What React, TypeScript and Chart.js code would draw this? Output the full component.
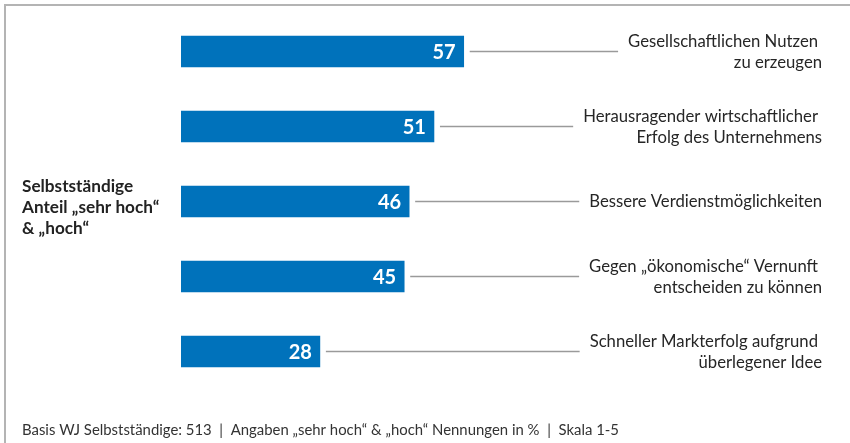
import React, { useEffect, useRef } from "react";
import { Chart, registerables } from "chart.js";

Chart.register(...registerables);

const categories: string[][] = [
  ["Gesellschaftlichen Nutzen", "zu erzeugen"],
  ["Herausragender wirtschaftlicher", "Erfolg des Unternehmens"],
  ["Bessere Verdienstmöglichkeiten"],
  ["Gegen \u201Eökonomische\u201C Vernunft", "entscheiden zu können"],
  ["Schneller Markterfolg aufgrund", "überlegener Idee"],
];
const values: number[] = [57, 51, 46, 45, 28];
const sideTitle: string[] = [
  "Selbstständige",
  "Anteil \u201Esehr hoch\u201C",
  "& \u201Ehoch\u201C",
];
const footnote =
  "Basis WJ Selbstständige: 513  |  Angaben \u201Esehr hoch\u201C & \u201Ehoch\u201C Nennungen in %  |  Skala 1-5";

const FONT = "Lato, 'Open Sans', sans-serif";

const overlay = {
  id: "overlay",
  afterDraw(chart: any) {
    const ctx: CanvasRenderingContext2D = chart.ctx;
    const meta = chart.getDatasetMeta(0);
    ctx.save();
    // frame
    ctx.strokeStyle = "#b4b4b4";
    ctx.lineWidth = 2;
    ctx.beginPath();
    ctx.moveTo(5, 443);
    ctx.lineTo(5, 5);
    ctx.lineTo(850, 5);
    ctx.stroke();

    const labelRight = 822;
    meta.data.forEach((bar: any, i: number) => {
      const x = bar.x;
      const y = bar.y;
      // value
      ctx.fillStyle = "#ffffff";
      ctx.font = `bold 20px ${FONT}`;
      ctx.textAlign = "right";
      ctx.textBaseline = "middle";
      ctx.fillText(String(values[i]), x - 8, y + 1);

      // category label
      const lines = categories[i];
      ctx.font = `16.7px ${FONT}`;
      ctx.fillStyle = "#262626";
      let firstLeft = labelRight;
      lines.forEach((ln, k) => {
        const ly = lines.length === 1 ? y : y - 10 + k * 21;
        const rx = lines.length > 1 && k === 0 ? labelRight - 4 : labelRight;
        ctx.fillText(ln, rx, ly);
        if (k === 0) firstLeft = rx - ctx.measureText(ln).width;
      });
      // connector
      ctx.strokeStyle = "#9a9a9a";
      ctx.lineWidth = 1.3;
      ctx.beginPath();
      ctx.moveTo(x + 6, y);
      ctx.lineTo(firstLeft - 10, y);
      ctx.stroke();
    });

    // side title
    ctx.fillStyle = "#222222";
    ctx.font = `bold 17.2px ${FONT}`;
    ctx.textAlign = "left";
    ctx.textBaseline = "alphabetic";
    sideTitle.forEach((t, k) => ctx.fillText(t, 22, 192 + k * 21));

    // footnote
    ctx.fillStyle = "#333333";
    ctx.font = `14.9px ${FONT}`;
    ctx.textBaseline = "middle";
    ctx.fillText(footnote, 22, 430);
    ctx.restore();
  },
};

export default function App() {
  const ref = useRef<HTMLCanvasElement | null>(null);
  useEffect(() => {
    document.body.style.margin = "0";
    const chart = new Chart(ref.current as HTMLCanvasElement, {
      type: "bar",
      data: {
        labels: categories.map((c) => c.join(" ")),
        datasets: [
          {
            data: values,
            backgroundColor: "#0072bb",
            borderWidth: 0,
            barThickness: 31,
          },
        ],
      },
      options: {
        indexAxis: "y",
        responsive: false,
        animation: false,
        layout: { padding: { left: 181, top: 14, right: 173, bottom: 54 } },
        scales: {
          x: { display: false, min: 0, max: 100 },
          y: { display: false },
        },
        plugins: {
          legend: { display: false },
          tooltip: { enabled: false },
        },
      },
      plugins: [overlay],
    });
    return () => chart.destroy();
  }, []);
  return <canvas ref={ref} width={850} height={443} style={{ display: "block" }} />;
}
